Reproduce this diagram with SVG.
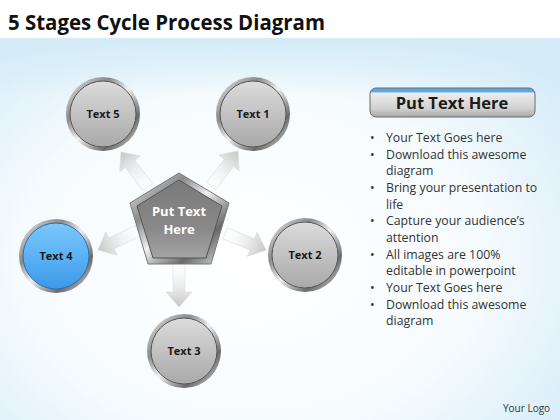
<svg xmlns="http://www.w3.org/2000/svg" width="560" height="420" viewBox="0 0 560 420">
<defs>
<radialGradient id="bg" cx="0.45" cy="0.62" r="0.75">
<stop offset="0" stop-color="#ffffff"/>
<stop offset="0.55" stop-color="#f6fbfe"/>
<stop offset="1" stop-color="#cfe9f7"/>
</radialGradient>
<linearGradient id="topband" x1="0" y1="0" x2="0" y2="1">
<stop offset="0" stop-color="#d4ecf8" stop-opacity="1"/>
<stop offset="1" stop-color="#d4ecf8" stop-opacity="0"/>
</linearGradient>
<linearGradient id="ring" x1="0" y1="0" x2="1" y2="1">
<stop offset="0" stop-color="#f4f4f4"/>
<stop offset="0.3" stop-color="#8a8a8a"/>
<stop offset="0.5" stop-color="#f0f0f0"/>
<stop offset="0.75" stop-color="#6a6a6a"/>
<stop offset="1" stop-color="#e8e8e8"/>
</linearGradient>
<linearGradient id="body" x1="0" y1="0" x2="0" y2="1">
<stop offset="0" stop-color="#dcdcdc"/>
<stop offset="0.6" stop-color="#bdbdbd"/>
<stop offset="1" stop-color="#a9a9a9"/>
</linearGradient>
<linearGradient id="blue" x1="0" y1="0" x2="0" y2="1">
<stop offset="0" stop-color="#7cc6fa"/>
<stop offset="0.6" stop-color="#55aef4"/>
<stop offset="1" stop-color="#3d97e6"/>
</linearGradient>
<linearGradient id="pent" x1="0" y1="0" x2="0" y2="1">
<stop offset="0" stop-color="#7a7a7a"/>
<stop offset="0.6" stop-color="#888888"/>
<stop offset="1" stop-color="#a4a4a4"/>
</linearGradient>
<linearGradient id="arrg" x1="0" y1="0" x2="1" y2="0">
<stop offset="0" stop-color="#ffffff" stop-opacity="0.2"/>
<stop offset="1" stop-color="#c4c4c4"/>
</linearGradient>
<linearGradient id="btn" x1="0" y1="0" x2="0" y2="1">
<stop offset="0" stop-color="#5aa8e4"/>
<stop offset="0.12" stop-color="#5aa8e4"/>
<stop offset="0.18" stop-color="#ececec"/>
<stop offset="0.7" stop-color="#d2d2d2"/>
<stop offset="1" stop-color="#a8a8a8"/>
</linearGradient>
<path id="arr" d="M-44,-6 L-15,-6 L-15,-13 L0,0 L-15,13 L-15,6 L-44,6 Z"/>
<style>
.ring{fill:url(#ring);}
.body{fill:url(#body);stroke:#555;stroke-width:1;}
.lbl{font-family:"Open Sans","Liberation Sans",sans-serif;font-weight:bold;font-size:11px;fill:#1a1a1a;text-anchor:middle;}
.bul{font-family:"Open Sans","Liberation Sans",sans-serif;font-size:12.3px;fill:#333333;}
.arrow{fill:url(#arrg);stroke:#d8d8d8;stroke-width:0.5;}
</style>
</defs>
<rect width="560" height="420" fill="url(#bg)"/>
<rect x="0" y="38" width="560" height="60" fill="url(#topband)"/>
<rect x="0" y="0" width="560" height="38" fill="#ffffff"/>
<text x="8" y="30" font-family="'Open Sans','Liberation Sans',sans-serif" font-weight="bold" font-size="22" fill="#111" textLength="317" lengthAdjust="spacingAndGlyphs">5 Stages Cycle Process Diagram</text>

<g id="connectors">
<use href="#arr" class="arrow" transform="translate(121,152) rotate(-127.4)"/>
<use href="#arr" class="arrow" transform="translate(238,151) rotate(-52.4)"/>
<use href="#arr" class="arrow" transform="translate(98,250) rotate(154)"/>
<use href="#arr" class="arrow" transform="translate(266,250) rotate(22.2)"/>
<use href="#arr" class="arrow" transform="translate(179,307) rotate(90)"/>
</g>

<g id="center">
<polygon points="179,173 229,203 211,264 148,264 130,203" fill="url(#ring)" stroke="#777" stroke-width="1"/>
<polygon points="179,180 222,206 206,258 153,258 137,206" fill="url(#pent)" stroke="#555" stroke-width="1"/>
<text x="179" y="216" font-family="'Open Sans','Liberation Sans',sans-serif" font-weight="bold" font-size="13" fill="#ffffff" text-anchor="middle">Put Text</text>
<text x="179" y="234" font-family="'Open Sans','Liberation Sans',sans-serif" font-weight="bold" font-size="13" fill="#ffffff" text-anchor="middle">Here</text>
</g>

<g id="node1">
<circle cx="253" cy="114" r="37" class="ring"/>
<circle cx="253" cy="114" r="33" class="body"/>
<text x="253" y="118" class="lbl">Text 1</text>
</g>
<g id="node2">
<circle cx="305" cy="255" r="37" class="ring"/>
<circle cx="305" cy="255" r="33" class="body"/>
<text x="305" y="259" class="lbl">Text 2</text>
</g>
<g id="node3">
<circle cx="184" cy="351" r="37" class="ring"/>
<circle cx="184" cy="351" r="33" class="body"/>
<text x="184" y="355" class="lbl">Text 3</text>
</g>
<g id="node4">
<circle cx="56" cy="256" r="37" class="ring"/>
<circle cx="56" cy="256" r="33" fill="url(#blue)" stroke="#2a6fb0" stroke-width="1"/>
<text x="56" y="260" class="lbl" fill="#0d2740">Text 4</text>
</g>
<g id="node5">
<circle cx="103" cy="114" r="37" class="ring"/>
<circle cx="103" cy="114" r="33" class="body"/>
<text x="103" y="118" class="lbl">Text 5</text>
</g>

<g id="panel">
<rect x="370" y="88" width="165" height="29" rx="6" fill="url(#btn)" stroke="#6a6a6a" stroke-width="1"/>
<text x="452" y="109" font-family="'Open Sans','Liberation Sans',sans-serif" font-weight="bold" font-size="16.5" fill="#1a1a1a" text-anchor="middle">Put Text Here</text>
<g class="bul">
<text x="370" y="142">•</text><text x="386" y="142">Your Text Goes here</text>
<text x="370" y="159">•</text><text x="386" y="159">Download this awesome</text>
<text x="386" y="175">diagram</text>
<text x="370" y="192">•</text><text x="386" y="192">Bring your presentation to</text>
<text x="386" y="209">life</text>
<text x="370" y="225">•</text><text x="386" y="225">Capture your audience’s</text>
<text x="386" y="242">attention</text>
<text x="370" y="259">•</text><text x="386" y="259">All images are 100%</text>
<text x="386" y="275">editable in powerpoint</text>
<text x="370" y="292">•</text><text x="386" y="292">Your Text Goes here</text>
<text x="370" y="309">•</text><text x="386" y="309">Download this awesome</text>
<text x="386" y="325">diagram</text>
</g>
</g>
<text x="503" y="412" font-family="'Open Sans','Liberation Sans',sans-serif" font-size="10" fill="#333">Your Logo</text>
</svg>
